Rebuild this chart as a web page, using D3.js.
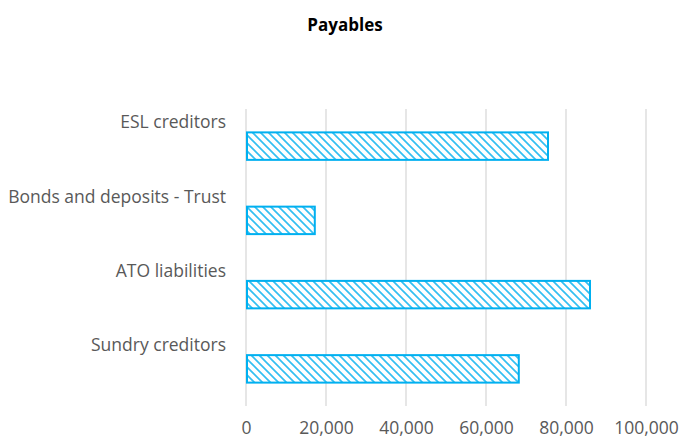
<!DOCTYPE html>
<html>
<head>
<meta charset="utf-8">
<script src="https://cdn.jsdelivr.net/npm/d3@7"></script>
<style>
  body { margin: 0; background: #fff; }
  text { font-family: "Open Sans", Lato, sans-serif; }
</style>
</head>
<body>
<div id="chart"></div>
<script>
const categories = ['ESL creditors', 'Bonds and deposits - Trust', 'ATO liabilities', 'Sundry creditors'];
const values = [75500, 17200, 86000, 68200];
const xTicks = [0, 20000, 40000, 60000, 80000, 100000];

const WIDTH = 681;
const HEIGHT = 441;
const MARGIN = { top: 109, right: 35, bottom: 35, left: 246 };
const BAR_COLOR = '#00b0f0';
const GRID_COLOR = '#d9d9d9';
const TEXT_COLOR = '#595959';

const svg = d3.select('#chart')
  .append('svg')
    .attr('width', WIDTH)
    .attr('height', HEIGHT);

// wide downward diagonal hatch like excel
const defs = svg.append('defs');
const pat = defs.append('pattern')
  .attr('id', 'hatch')
  .attr('patternUnits', 'userSpaceOnUse')
  .attr('width', 8)
  .attr('height', 8);
pat.append('rect').attr('width', 8).attr('height', 8).attr('fill', '#fff');
pat.append('path')
  .attr('d', 'M-2,-2 L10,10 M-2,6 L2,10 M6,-2 L10,2')
  .attr('stroke', '#33bff2')
  .attr('stroke-width', 1.7);

const x = d3.scaleLinear()
  .domain([0, 100000])
  .range([MARGIN.left, MARGIN.left + 400]);

const y = d3.scaleBand()
  .domain(categories)
  .range([MARGIN.top, HEIGHT - MARGIN.bottom])
  .paddingInner(0.63)
  .paddingOuter(0.315);

const yBand = d3.scaleBand()
  .domain(categories)
  .range([MARGIN.top, HEIGHT - MARGIN.bottom]);

// gridlines
svg.append('g')
  .selectAll('line')
  .data(xTicks)
  .enter()
  .append('line')
    .attr('x1', d => x(d))
    .attr('x2', d => x(d))
    .attr('y1', MARGIN.top)
    .attr('y2', HEIGHT - MARGIN.bottom)
    .attr('stroke', GRID_COLOR)
    .attr('stroke-width', 1.3);

// bars
svg.append('g')
  .selectAll('rect')
  .data(values)
  .enter()
  .append('rect')
    .attr('x', x(0) + 1)
    .attr('y', (d, i) => y(categories[i]))
    .attr('width', d => x(d) - x(0) - 1)
    .attr('height', y.bandwidth())
    .attr('fill', 'url(#hatch)')
    .attr('stroke', BAR_COLOR)
    .attr('stroke-width', 2);

// category labels sit above the bars
svg.append('g')
  .selectAll('text')
  .data(categories)
  .enter()
  .append('text')
    .attr('x', 226)
    .attr('y', d => yBand(d) + yBand.bandwidth() / 2 - 24)
    .attr('dy', '0.35em')
    .attr('text-anchor', 'end')
    .attr('fill', TEXT_COLOR)
    .style('font-size', '17.5px')
    .text(d => d);

// x axis labels
const xAxis = d3.axisBottom(x)
  .tickValues(xTicks)
  .tickFormat(d3.format(','))
  .tickSize(0)
  .tickPadding(16);

const xg = svg.append('g')
  .attr('transform', `translate(0, ${HEIGHT - MARGIN.bottom})`)
  .call(xAxis);
xg.select('.domain').remove();
xg.selectAll('text')
  .attr('fill', TEXT_COLOR)
  .style('font-family', '"Open Sans", Lato, sans-serif')
  .style('font-size', '17.5px');

// title
svg.append('text')
  .attr('x', 345)
  .attr('y', 31)
  .attr('text-anchor', 'middle')
  .attr('fill', '#000')
  .style('font-size', '17px')
  .style('font-weight', 'bold')
  .text('Payables');
</script>
</body>
</html>
